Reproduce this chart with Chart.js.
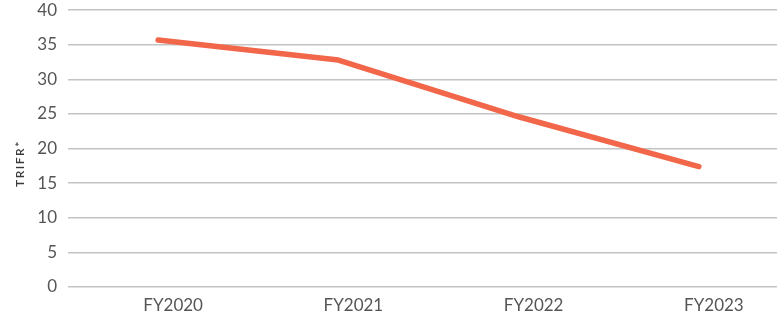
<!DOCTYPE html>
<html>
<head>
<meta charset="utf-8">
<script src="https://cdn.jsdelivr.net/npm/chart.js@4"></script>
<style>
  html, body { margin: 0; padding: 0; background: #fff; overflow: hidden; }
  .wrap { width: 795px; height: 334px; margin-top: -11px; }
</style>
</head>
<body>
<div class="wrap"><canvas id="chart" width="795" height="334"></canvas></div>
<script>
// TRIFR por ano fiscal
const years = ["FY2020", "FY2021", "FY2022", "FY2023"];
const trifr = [35.7, 32.8, 24.6, 17.4];
const yTicks = [0, 5, 10, 15, 20, 25, 30, 35, 40];
const yTitle = "TRIFR*";

// título do eixo Y com espaçamento entre letras (o título nativo não suporta)
const yTitlePlugin = {
  id: "yTitle",
  afterDraw(chart) {
    const { ctx, chartArea } = chart;
    ctx.save();
    ctx.translate(20, (chartArea.top + chartArea.bottom) / 2 + 16);
    ctx.rotate(-Math.PI / 2);
    ctx.font = "600 12px Lato";
    ctx.letterSpacing = "1.5px";
    ctx.fillStyle = "#3a3a3a";
    ctx.textAlign = "center";
    ctx.textBaseline = "middle";
    ctx.fillText(yTitle, 1, 0);
    ctx.restore();
  },
};

const ctx = document.getElementById("chart").getContext("2d");
new Chart(ctx, {
  type: "line",
  data: {
    labels: years,
    datasets: [{
      label: yTitle,
      data: trifr,
      borderColor: "#f2664a",
      borderWidth: 5.5,
      borderCapStyle: "round",
      borderJoinStyle: "round",
      pointRadius: 0,
      tension: 0,
      fill: false,
    }],
  },
  options: {
    responsive: false,
    animation: false,
    layout: { padding: { top: 0, right: 6, left: 0, bottom: 0 } },
    plugins: { legend: { display: false }, tooltip: { enabled: false } },
    scales: {
      x: {
        offset: true,
        grid: { display: false, drawTicks: false },
        border: { display: false },
        ticks: {
          color: "#555",
          font: { family: "Lato", size: 17 },
          padding: 8,
          labelOffset: 15,
        },
        afterFit: (s) => { s.height = 36; },
      },
      y: {
        min: 0,
        max: 40,
        afterBuildTicks: (s) => { s.ticks = yTicks.map((v) => ({ value: v })); },
        grid: { color: "#c4c4c4", lineWidth: 1.5, drawTicks: false },
        border: { display: false },
        ticks: {
          color: "#555",
          font: { family: "Lato", size: 17 },
          padding: 11,
        },
        afterFit: (s) => { s.width = 68; },
      },
    },
  },
  plugins: [yTitlePlugin],
});
</script>
</body>
</html>
